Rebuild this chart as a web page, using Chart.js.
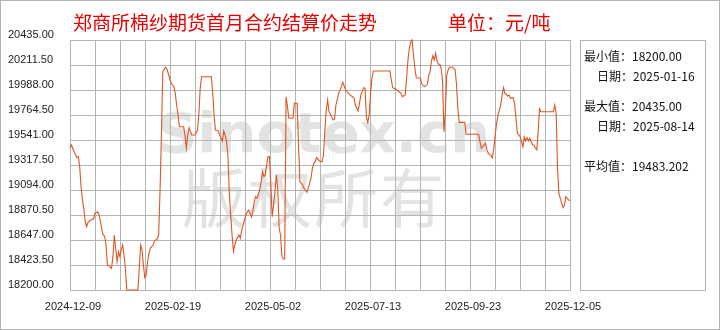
<!DOCTYPE html>
<html>
<head>
<meta charset="utf-8">
<title>郑商所棉纱期货首月合约结算价走势</title>
<script src="https://cdn.jsdelivr.net/npm/chart.js@4.4.1/dist/chart.umd.min.js"></script>
<style>
  html, body { margin: 0; padding: 0; background: #fff; }
  #wrap { width: 720px; height: 330px; }
</style>
</head>
<body>
<div id="wrap"><canvas id="priceChart" width="720" height="330"></canvas></div>
<script>
// settlement price, day offset counted from 2024-12-09
const startDate = '2024-12-09';
const dayOffsets = [
  0, 1, 3, 5, 6, 7, 8, 9, 10, 11, 12, 13, 15, 17, 18, 20, 21, 22, 23, 24, 25, 26, 27, 28, 30,
  31, 32, 33, 34, 35, 36, 37, 38, 39, 40, 41, 49, 50, 51, 52, 53, 54, 55, 56, 57, 58, 60, 61, 63, 64,
  65, 66, 67, 68, 69, 70, 72, 73, 75, 76, 77, 78, 79, 82, 83, 84, 85, 86, 87, 88, 90, 91, 92, 93, 94,
  95, 102, 103, 104, 105, 107, 108, 110, 111, 112, 113, 114, 115, 116, 117, 118, 119, 120, 122, 123, 124, 126, 127, 128, 129,
  131, 132, 133, 134, 135, 137, 138, 139, 140, 141, 142, 143, 144, 145, 146, 147, 148, 149, 150, 151, 152, 153, 154, 155, 156,
  157, 158, 161, 162, 164, 165, 166, 168, 169, 171, 172, 174, 175, 176, 177, 178, 180, 182, 183, 184, 185, 186, 187, 188, 190,
  191, 192, 194, 196, 197, 199, 201, 203, 205, 206, 208, 209, 210, 212, 213, 214, 215, 216, 217, 218, 219, 231, 232, 233, 235,
  237, 239, 240, 242, 243, 244, 245, 246, 247, 248, 249, 250, 253, 254, 256, 258, 259, 260, 261, 262, 263, 264, 265, 266, 267,
  268, 269, 270, 271, 272, 273, 274, 276, 278, 279, 280, 281, 285, 286, 295, 296, 297, 298, 300, 301, 302, 304, 305, 306, 307,
  308, 309, 310, 311, 312, 313, 314, 315, 316, 317, 318, 320, 321, 322, 323, 324, 325, 326, 327, 328, 329, 330, 331, 332, 333,
  334, 335, 336, 337, 338, 339, 340, 349, 350, 351, 352, 353, 354, 355, 356, 357, 358, 359, 360, 361
];
const settlePrices = [
  19467, 19496, 19436, 19383, 19392, 19302, 19123, 19005, 18930, 18811, 18766, 18805, 18826, 18835, 18886, 18900, 18871, 18811, 18736, 18692, 18683, 18602, 18424, 18415, 18394,
  18498, 18692, 18573, 18453, 18542, 18498, 18558, 18602, 18513, 18394, 18200, 18200, 18394, 18602, 18558, 18424, 18310, 18334, 18453, 18528, 18573, 18602, 18638, 18656, 18692,
  19079, 19586, 20152, 20173, 20191, 20173, 20093, 20048, 20018, 19958, 19854, 19764, 19660, 19660, 19586, 19467, 19586, 19651, 19615, 19586, 19586, 19601, 19630, 19764, 20003,
  20107, 20107, 19973, 19764, 19630, 19624, 19586, 19532, 19621, 19586, 19526, 19407, 19079, 18870, 18692, 18549, 18602, 18647, 18692, 18662, 18736, 18826, 18870, 18900, 18915,
  18855, 18900, 18989, 19034, 19020, 19094, 19168, 19258, 19213, 19228, 19318, 19392, 19392, 19139, 18855, 18960, 19079, 19228, 19109, 18752, 18692, 18498, 18477, 18477, 19928,
  19839, 19735, 19735, 19869, 19869, 19496, 19168, 19139, 19109, 19073, 19109, 19199, 19288, 19333, 19347, 19383, 19354, 19347, 19407, 19616, 19809, 19899, 19794, 19771, 19720,
  19729, 19854, 19958, 20018, 20057, 19988, 19958, 19937, 19919, 19854, 19800, 19869, 19943, 20009, 20003, 19749, 19699, 19764, 19958, 20093, 20158, 20158, 20077, 20009, 19997,
  19979, 19958, 19928, 19943, 20093, 20256, 20361, 20420, 20435, 20301, 20182, 20098, 20093, 20039, 20018, 20039, 20116, 20152, 20247, 20295, 20256, 20316, 20247, 20218, 20218,
  20182, 20062, 19616, 19794, 20122, 20167, 20191, 20191, 20173, 20048, 19824, 19699, 19699, 19592, 19592, 19526, 19467, 19481, 19511, 19452, 19422, 19401, 19383, 19467, 19586,
  19690, 19764, 19809, 19854, 19943, 20009, 19958, 19949, 19934, 19943, 19913, 19919, 19869, 19735, 19601, 19586, 19571, 19526, 19481, 19571, 19532, 19562, 19532, 19556, 19526,
  19496, 19496, 19467, 19452, 19616, 19819, 19794, 19794, 19854, 19780, 19288, 19064, 19020, 18975, 18936, 18960, 19034, 19020, 19005, 18999
];

const yTickValues = [18200, 18423.5, 18647, 18870.5, 19094, 19317.5, 19541, 19764.5, 19988, 20211.5, 20435];
const yTickLabels = ['18200.00', '18423.50', '18647.00', '18870.50', '19094.00', '19317.50', '19541.00', '19764.50', '19988.00', '20211.50', '20435.00'];
const xTickLabels = ['2024-12-09', '2025-02-19', '2025-05-02', '2025-07-13', '2025-09-23', '2025-12-05'];
const totalDays = 361;

const titleText = '郑商所棉纱期货首月合约结算价走势';
const unitText = '单位：元/吨';
const statLines = ['最小值：18200.00', '日期：2025-01-16', '最大值：20435.00', '日期：2025-08-14', '平均值：19483.202'];

const gridColor = '#b4b4b4';
const lineColor = '#dd5522';
const tickFont = { family: "'Liberation Sans', Arial, sans-serif", size: 11 };
const cjkFont = "'Noto Sans CJK SC', sans-serif";

// 20 grid columns, a label on every 4th one
const xTickDays = [];
for (let k = 0; k <= 20; k++) xTickDays.push(k * totalDays / 20);

// 1px lines as filled rects (crisp)
function hLine(ctx, x0, x1, y) { ctx.fillRect(x0, y, x1 - x0 + 1, 1); }
function vLine(ctx, x, y0, y1) { ctx.fillRect(x, y0, 1, y1 - y0 + 1); }

// grid, watermark, titles and the stats box
const decorPlugin = {
  id: 'decor',
  beforeDraw(chart) {
    const ctx = chart.ctx;
    ctx.save();
    ctx.fillStyle = '#fff';
    ctx.fillRect(0, 0, chart.width, chart.height);
    ctx.restore();
  },
  beforeDatasetsDraw(chart) {
    const ctx = chart.ctx;
    const xs = chart.scales.x, ys = chart.scales.y;
    const area = chart.chartArea;
    ctx.save();
    ctx.fillStyle = gridColor;
    xTickDays.forEach(d => vLine(ctx, Math.round(xs.getPixelForValue(d)), area.top, area.bottom));
    yTickValues.forEach(v => hLine(ctx, area.left, area.right, Math.round(ys.getPixelForValue(v))));

    // watermark
    ctx.fillStyle = 'rgba(185,185,185,0.4)';
    ctx.textBaseline = 'alphabetic';
    ctx.font = "bold 56px 'DejaVu Sans', sans-serif";
    ctx.fillText('Sinotex.cn', 157, 152);
    ctx.font = '64px ' + cjkFont;
    const wm = '版权所有';
    for (let i = 0; i < wm.length; i++) {
      ctx.fillText(wm[i], 182 + i * 66, 222);
    }
    ctx.restore();
  },
  afterDraw(chart) {
    const ctx = chart.ctx;
    const W = chart.width, H = chart.height;
    ctx.save();
    ctx.fillStyle = gridColor;
    // outer frame
    hLine(ctx, 0, W - 1, 0);
    hLine(ctx, 0, W - 1, H - 1);
    vLine(ctx, 0, 0, H - 1);
    vLine(ctx, W - 1, 0, H - 1);
    // stats box
    hLine(ctx, 580, 705, 40);
    hLine(ctx, 580, 705, 290);
    vLine(ctx, 580, 40, 290);
    vLine(ctx, 705, 40, 290);

    // title + unit
    ctx.fillStyle = '#e60000';
    ctx.textBaseline = 'middle';
    ctx.font = '19px ' + cjkFont;
    ctx.fillText(titleText, 73, 23);
    ctx.fillText(unitText, 448, 23);

    // stats text
    ctx.fillStyle = '#111';
    ctx.font = '12px ' + cjkFont;
    const rows = [[584, 56], [597, 76], [584, 106], [597, 126], [584, 166]];
    statLines.forEach((t, i) => ctx.fillText(t, rows[i][0], rows[i][1]));
    ctx.restore();
  }
};

const points = dayOffsets.map((d, i) => ({ x: d, y: settlePrices[i] }));

new Chart(document.getElementById('priceChart'), {
  type: 'line',
  data: {
    datasets: [{
      data: points,
      borderColor: lineColor,
      borderWidth: 1.1,
      pointRadius: 0,
      tension: 0,
      fill: false,
      clip: false
    }]
  },
  options: {
    responsive: false,
    animation: false,
    layout: { padding: { left: 8, top: 40, right: 150, bottom: 0 } },
    plugins: {
      legend: { display: false },
      tooltip: { enabled: false }
    },
    scales: {
      x: {
        type: 'linear',
        min: 0,
        max: totalDays,
        afterBuildTicks: s => { s.ticks = xTickDays.map(v => ({ value: v })); },
        afterFit: s => { s.height = 40; },
        grid: { display: false },
        border: { display: false },
        ticks: {
          autoSkip: false,
          maxRotation: 0,
          padding: 2,
          labelOffset: 3,
          font: tickFont,
          color: '#222',
          callback: (v, i) => (i % 4 === 0 ? xTickLabels[i / 4] : '')
        }
      },
      y: {
        min: yTickValues[0],
        max: yTickValues[yTickValues.length - 1],
        afterBuildTicks: s => { s.ticks = yTickValues.map(v => ({ value: v })); },
        afterFit: s => { s.width = 62; },
        grid: { display: false },
        border: { display: false },
        ticks: {
          crossAlign: 'far',
          labelOffset: -5,
          font: tickFont,
          color: '#222',
          callback: (v, i) => yTickLabels[i]
        }
      }
    }
  },
  plugins: [decorPlugin]
});
</script>
</body>
</html>
